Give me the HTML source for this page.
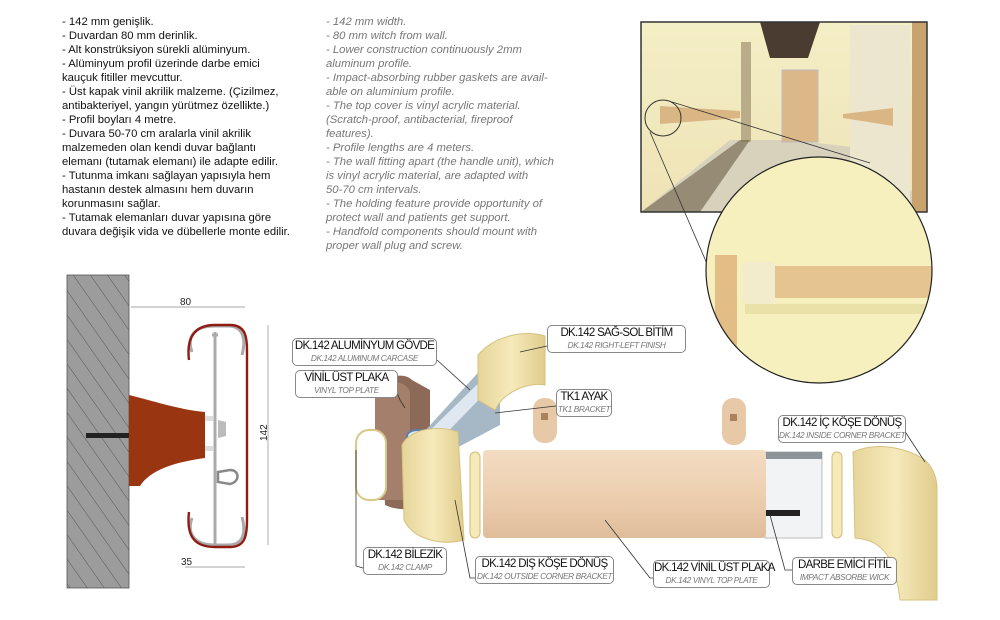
<!DOCTYPE html>
<html><head><meta charset="utf-8"><style>
html,body{margin:0;padding:0;background:#fff;width:1000px;height:620px;overflow:hidden;font-family:"Liberation Sans",sans-serif}
.t{position:absolute;font-size:11.3px;line-height:14px;white-space:pre}
#l{left:62px;top:15px;color:#111}
#r{left:326px;top:15px;color:#777;font-style:italic}
svg{position:absolute;left:0;top:0}
.lb{position:absolute;box-sizing:border-box;height:28px;border:1px solid #888;border-radius:5px;background:#fff;text-align:center;line-height:12px;padding-top:1px;white-space:nowrap;overflow:visible}
.lb b{display:block;font-weight:normal;font-size:11.5px;color:#111;letter-spacing:-0.7px}
.lb i{display:block;font-size:8.3px;color:#777;letter-spacing:-0.4px}
</style></head><body>
<svg width="1000" height="620" viewBox="0 0 1000 620">
<defs>
<pattern id="h" width="14" height="14" patternUnits="userSpaceOnUse" patternTransform="rotate(-35)"><rect width="14" height="14" fill="#9c9c9c"/><line x1="0" y1="0" x2="0" y2="14" stroke="#444" stroke-width="0.8"/></pattern>
<linearGradient id="beige" x1="0" y1="0" x2="0" y2="1"><stop offset="0" stop-color="#f3dcc2"/><stop offset=".5" stop-color="#edcfb0"/><stop offset="1" stop-color="#dfbd9b"/></linearGradient>
<linearGradient id="yel" x1="0" y1="0" x2="1" y2="0"><stop offset="0" stop-color="#e6d59a"/><stop offset=".5" stop-color="#f6eabb"/><stop offset="1" stop-color="#e0cc8c"/></linearGradient>
<linearGradient id="wall" x1="0" y1="0" x2="0" y2="1"><stop offset="0" stop-color="#f4eec6"/><stop offset="1" stop-color="#eee3b5"/></linearGradient>
<clipPath id="cc"><circle cx="819" cy="270" r="113"/></clipPath>
</defs>
<rect x="67" y="275" width="62" height="313" fill="url(#h)" stroke="#555" stroke-width="0.8"/>
<rect x="86" y="433" width="44" height="5" fill="#222"/>
<path d="M129 395 C150 400 180 410 205 412 L205 458 C175 462 150 470 140 486 L129 486 Z" fill="#9a3512"/>
<rect x="205" y="416" width="8" height="5" fill="#ddd"/><rect x="205" y="446" width="8" height="5" fill="#ddd"/>
<path d="M215 332 L215 545 M212 335 L218 335" stroke="#aaa" stroke-width="3" fill="none"/>
<path d="M192 352 C186 335 196 326 215 326 L228 326 C244 326 246 340 242 355" fill="none" stroke="#aaa" stroke-width="3"/>
<path d="M192 518 C186 535 196 545 215 545 L228 545 C244 545 246 532 242 517" fill="none" stroke="#aaa" stroke-width="3"/>
<path d="M189 360 C186 336 196 325 215 325 L230 325 C246 325 247 338 247 350 L247 520 C247 536 245 547 230 547 L215 547 C196 547 186 538 189 512" fill="none" stroke="#8e1c12" stroke-width="2.4"/>
<path d="M218 420 L226 422 L226 436 L218 438Z" fill="#bbb"/>
<path d="M218 472 L230 470 C240 470 240 482 230 484 L218 482Z" fill="none" stroke="#888" stroke-width="2.5"/>
<g stroke="#888" stroke-width="0.7" fill="none"><line x1="131" y1="307" x2="245" y2="307"/><line x1="268" y1="325" x2="268" y2="545"/><line x1="185" y1="567" x2="245" y2="567"/></g>
<g font-size="10" fill="#222"><text x="180" y="305">80</text><text x="181" y="565">35</text><text transform="translate(267,441) rotate(-90)">142</text></g>
<rect x="641" y="22" width="286" height="190" fill="url(#wall)"/>
<polygon points="760,22 820,22 808,58 770,58" fill="#4a3c30"/>
<polygon points="641,212 927,212 880,150 790,140 760,140 730,140" fill="#d8d2bd"/>
<rect x="782" y="70" width="36" height="72" fill="#dcb888" stroke="#bbb"/>
<rect x="741" y="42" width="10" height="100" fill="#b9ac88"/>
<rect x="850" y="25" width="60" height="187" fill="#ece6ce"/>
<rect x="912" y="22" width="15" height="190" fill="#c9a36e"/>
<polygon points="660,106 740,111 740,118 660,124" fill="#d9b683"/>
<polygon points="843,114 893,108 893,126 843,118" fill="#d9b683"/>
<polygon points="641,212 700,212 750,140 740,140" fill="#6b5b45" opacity=".6"/>
<rect x="641" y="22" width="286" height="190" fill="none" stroke="#333" stroke-width="1.5"/>
<circle cx="663" cy="118" r="18" fill="none" stroke="#333" stroke-width="1"/>
<line x1="672" y1="102" x2="870" y2="163" stroke="#333" stroke-width="0.8"/>
<line x1="650" y1="132" x2="740" y2="340" stroke="#333" stroke-width="0.8"/>
<g clip-path="url(#cc)"><rect x="700" y="150" width="240" height="240" fill="#f6f0bf"/>
<rect x="715" y="255" width="22" height="140" fill="#e2bd85"/>
<rect x="743" y="262" width="32" height="42" rx="5" fill="#f2eccc"/>
<rect x="775" y="266" width="165" height="32" fill="#e6c48f"/>
<rect x="745" y="304" width="195" height="10" fill="#e9e1a8"/></g>
<circle cx="819" cy="270" r="113" fill="none" stroke="#222" stroke-width="1.2"/>
<path d="M380 388 C385 375 405 372 412 380 L430 390 L430 500 C420 510 400 512 385 505 Z" fill="#8d6a58"/>
<path d="M375 395 C380 378 405 378 410 392 L410 500 L375 500Z" fill="#a47f6b"/>
<rect x="356" y="430" width="30" height="70" rx="13" fill="#fff" stroke="#d8c88c" stroke-width="2"/>
<polygon points="412,445 485,365 500,375 500,425 430,462" fill="#a6b7c6"/>
<polygon points="420,440 490,372 498,380 430,450" fill="#dfe8f0"/>
<ellipse cx="418" cy="436" rx="11" ry="6" fill="#dfeaf5" stroke="#5580b0" stroke-width="2"/>
<path d="M478 355 C495 335 525 330 545 336 L545 385 C530 382 505 390 495 410 L478 400Z" fill="url(#yel)" stroke="#d6c27e" stroke-width="1"/>
<path d="M402 445 C410 428 440 425 458 432 L464 540 C445 545 415 542 404 520Z" fill="url(#yel)" stroke="#d6c27e"/>
<rect x="470" y="452" width="10" height="86" rx="5" fill="#f5eab8" stroke="#d0bb77"/>
<rect x="533" y="398" width="24" height="45" rx="11" fill="#e8c9a7"/><rect x="541" y="413" width="7" height="7" fill="#a9825e"/>
<rect x="722" y="398" width="24" height="47" rx="11" fill="#e8c9a7"/><rect x="730" y="414" width="7" height="7" fill="#a9825e"/>
<rect x="765" y="452" width="57" height="86" fill="#f1f3f5" stroke="#bbb"/>
<rect x="765" y="452" width="57" height="7" fill="#8d949a"/>
<rect x="765" y="510" width="35" height="6" fill="#222"/>
<rect x="483" y="450" width="283" height="88" rx="4" fill="url(#beige)"/>
<rect x="832" y="452" width="10" height="86" rx="5" fill="#f5eab8" stroke="#d0bb77"/>
<path d="M853 452 C880 440 910 450 925 460 C935 470 937 480 937 490 L937 600 L900 600 C895 560 885 540 855 538Z" fill="url(#yel)" stroke="#d6c27e"/>
<g stroke="#333" stroke-width="0.8" fill="none">
<path d="M437 360 L470 390"/><path d="M394 385 L400 400 L405 408"/>
<path d="M547 346 L520 352"/><path d="M556 406 L495 413"/>
<path d="M904 430 L925 462"/><path d="M363 568 L356 566 L356 450"/>
<path d="M475 578 L470 578 L455 500"/><path d="M654 578 L650 578 L605 520"/>
<path d="M792 570 L785 570 L770 515"/>
</g>
</svg>
<div id="l" class="t">- 142 mm genişlik.
- Duvardan 80 mm derinlik.
- Alt konstrüksiyon sürekli alüminyum.
- Alüminyum profil üzerinde darbe emici
kauçuk fitiller mevcuttur.
- Üst kapak vinil akrilik malzeme. (Çizilmez,
antibakteriyel, yangın yürütmez özellikte.)
- Profil boyları 4 metre.
- Duvara 50-70 cm aralarla vinil akrilik
malzemeden olan kendi duvar bağlantı
elemanı (tutamak elemanı) ile adapte edilir.
- Tutunma imkanı sağlayan yapısıyla hem
hastanın destek almasını hem duvarın
korunmasını sağlar.
- Tutamak elemanları duvar yapısına göre
duvara değişik vida ve dübellerle monte edilir.</div>
<div id="r" class="t">- 142 mm width.
- 80 mm witch from wall.
- Lower construction continuously 2mm
aluminum profile.
- Impact-absorbing rubber gaskets are avail-
able on aluminium profile.
- The top cover is vinyl acrylic material.
(Scratch-proof, antibacterial, fireproof
features).
- Profile lengths are 4 meters.
- The wall fitting apart (the handle unit), which
is vinyl acrylic material, are adapted with
50-70 cm intervals.
- The holding feature provide opportunity of
protect wall and patients get support.
- Handfold components should mount with
proper wall plug and screw.</div>
<div class="lb" style="left:292px;top:338px;width:145px"><b>DK.142 ALUMİNYUM GÖVDE</b><i>DK.142 ALUMINUM CARCASE</i></div>
<div class="lb" style="left:295px;top:370px;width:103px"><b>VİNİL ÜST PLAKA</b><i>VINYL TOP PLATE</i></div>
<div class="lb" style="left:547px;top:325px;width:139px"><b>DK.142 SAĞ-SOL BİTİM</b><i>DK.142 RIGHT-LEFT FINISH</i></div>
<div class="lb" style="left:556px;top:389px;width:56px"><b>TK1 AYAK</b><i>TK1 BRACKET</i></div>
<div class="lb" style="left:778px;top:415px;width:128px"><b>DK.142 İÇ KÖŞE DÖNÜŞ</b><i>DK.142 INSIDE CORNER BRACKET</i></div>
<div class="lb" style="left:363px;top:547px;width:84px"><b>DK.142 BİLEZİK</b><i>DK.142 CLAMP</i></div>
<div class="lb" style="left:475px;top:556px;width:139px"><b>DK.142 DIŞ KÖŞE DÖNÜŞ</b><i>DK.142 OUTSIDE CORNER BRACKET</i></div>
<div class="lb" style="left:653px;top:560px;width:117px"><b>DK.142 VİNİL ÜST PLAKA</b><i>DK.142 VINYL TOP PLATE</i></div>
<div class="lb" style="left:792px;top:557px;width:105px"><b>DARBE EMİCİ FİTİL</b><i>IMPACT ABSORBE WICK</i></div>
</body></html>
